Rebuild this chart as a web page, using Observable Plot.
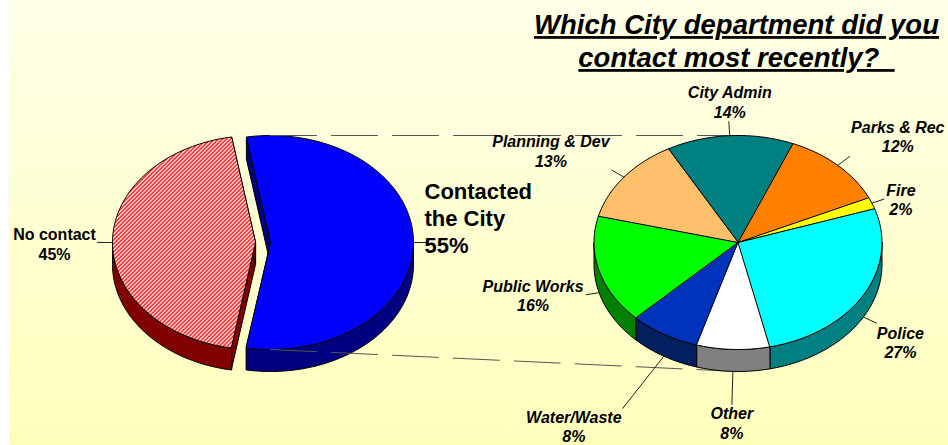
<!DOCTYPE html>
<html>
<head>
<meta charset="utf-8">
<script src="https://cdn.jsdelivr.net/npm/d3@7"></script>
<script src="https://cdn.jsdelivr.net/npm/@observablehq/plot@0.6"></script>
<style>
html,body{margin:0;padding:0;background:#fff}
svg{display:block}
.chart-title text{text-decoration:underline;text-decoration-thickness:3px;text-underline-offset:2px}
</style>
</head>
<body>
<div id="chart"></div>
<script>
// ---- data ----
const titleLines = ["Which City department did you", "contact most recently?\u00a0\u00a0"];

const contactCategories = ["Contacted the City", "No contact"];
const contactValues = [55.4, 44.6];
const contactLabels = ["Contacted\nthe City\n55%", "No contact\n45%"];

const deptCategories = ["City Admin", "Parks & Rec", "Fire", "Police", "Other", "Water/Waste", "Public Works", "Planning & Dev"];
const deptValues = [14.3, 11.9, 1.75, 26.6, 8.2, 7.9, 16.4, 13];
const deptPercents = [14, 12, 2, 27, 8, 8, 16, 13];

// ---- styling ----
const contactTop = ["#0000ff", "url(#hatch)"];
const contactSide = ["#000080", "#800000"];
const deptTop = ["#008080", "#ff8000", "#ffff00", "#00ffff", "#ffffff", "#0033bb", "#00ff00", "#ffbf6b"];
const deptSide = ["#004d4d", "#804000", "#808000", "#008080", "#808080", "#002060", "#008000", "#806030"];

// ---- layout ----
const W = 948, H = 445;
const cy = 242, depth = 22;
const pieRight = {cx: 737.5, rx: 144, ry: 107};
const contactCx = [270, 255];
const contactRx = 143, contactRy = 107;
const rad = Math.PI / 180;
const deptLabelOffset = [[0,-34],[60,-29],[29,-4],[37,25],[-1,51],[-90,70],[-66,2.5],[-73,-26.5]];
const deptLeader = [[-1,-14],[12,-9],[12,-4],[13,6],[-1,33],[-41,52],[-13,2],[-12,-7]];

const pt = (cx, cyy, rx, ry, a) => ({x: cx + rx * Math.sin(a), y: cyy - ry * Math.cos(a)});
const arc = (cx, cyy, rx, ry, a0, a1) => {
  const n = Math.max(2, Math.ceil(Math.abs(a1 - a0) / (1.5 * rad)));
  return d3.range(n + 1).map(i => pt(cx, cyy, rx, ry, a0 + (a1 - a0) * i / n));
};

// the two cut faces of an exploded slice
function wallFaces(cx, rx, ry, s, fill) {
  const apex = {x: cx, y: cy}, apexD = {x: cx, y: cy + depth};
  return [s.startAngle, s.endAngle].map(a => ({
    points: [apex, pt(cx, cy, rx, ry, a), pt(cx, cy + depth, rx, ry, a), apexD], fill
  }));
}
// the visible front part of a slice's rim
function rimFaces(cx, rx, ry, s, fill) {
  const faces = [];
  for (const k of [-2, 0, 2]) {
    const a0 = Math.max(s.startAngle, 90 * rad + k * Math.PI);
    const a1 = Math.min(s.endAngle, 270 * rad + k * Math.PI);
    if (a1 > a0) faces.push({
      points: [...arc(cx, cy, rx, ry, a0, a1), ...arc(cx, cy + depth, rx, ry, a1, a0)],
      fill
    });
  }
  return faces;
}
const topFace = (cx, rx, ry, s, fill) => ({
  points: [{x: cx, y: cy}, ...arc(cx, cy, rx, ry, s.startAngle, s.endAngle)], fill
});

const contactPie = d3.pie().sort(null).startAngle(-9.7 * rad).endAngle(350.3 * rad)(contactValues);
const deptPie = d3.pie().sort(null).startAngle(-29 * rad).endAngle(331 * rad)(deptValues);

const rim = (cx, rx, ry, s) => {
  const m = (s.startAngle + s.endAngle) / 2;
  return pt(cx, Math.cos(m) < -0.05 ? cy + depth : cy, rx, ry, m);
};
const faceMark = f => Plot.line(f.points, {x: "x", y: "y", fill: f.fill, stroke: "#000", strokeWidth: 1, curve: "linear-closed"});

const leftFaces = [
  ...contactPie.flatMap((s, i) => wallFaces(contactCx[i], contactRx, contactRy, s, contactSide[i])),
  ...contactPie.flatMap((s, i) => rimFaces(contactCx[i], contactRx, contactRy, s, contactSide[i])),
  ...contactPie.map((s, i) => topFace(contactCx[i], contactRx, contactRy, s, contactTop[i]))
];
const rightFaces = [
  ...deptPie.flatMap((s, i) => rimFaces(pieRight.cx, pieRight.rx, pieRight.ry, s, deptSide[i])),
  ...deptPie.map((s, i) => topFace(pieRight.cx, pieRight.rx, pieRight.ry, s, deptTop[i]))
];

const connectors = [
  [{x: contactCx[0], y: cy - contactRy}, {x: pieRight.cx, y: cy - pieRight.ry}],
  [{x: contactCx[0], y: cy + contactRy}, {x: pieRight.cx, y: cy + pieRight.ry + depth}]
];

const deptRows = deptPie.map((s, i) => {
  const r = rim(pieRight.cx, pieRight.rx, pieRight.ry, s);
  return {
    r,
    end: {x: r.x + deptLeader[i][0], y: r.y + deptLeader[i][1]},
    x: r.x + deptLabelOffset[i][0],
    y: r.y + deptLabelOffset[i][1],
    label: `${deptCategories[i]}\n${deptPercents[i]}%`
  };
});
const contactRims = contactPie.map((s, i) => rim(contactCx[i], contactRx, contactRy, s));
const contactLeaders = [
  [contactRims[0], {x: contactRims[0].x + 15, y: contactRims[0].y}],
  [contactRims[1], {x: contactRims[1].x - 15, y: contactRims[1].y}]
];

const font = "'Liberation Sans', Arial, sans-serif";
const plot = Plot.plot({
  width: W, height: H,
  margin: 0,
  style: {background: "linear-gradient(#ffffe8,#ffffbc) 9px 0 / 939px 100% no-repeat", fontFamily: font},
  x: {domain: [0, W], range: [0, W], axis: null},
  y: {domain: [0, H], range: [0, H], axis: null},
  marks: [
    ...leftFaces.map(faceMark),
    ...connectors.map(c => Plot.line(c, {x: "x", y: "y", stroke: "#555", strokeWidth: 1, strokeDasharray: "46,15"})),
    ...rightFaces.map(faceMark),
    ...deptRows.map(d => Plot.line([d.r, d.end], {x: "x", y: "y", stroke: "#222", strokeWidth: 1})),
    ...contactLeaders.map(c => Plot.line(c, {x: "x", y: "y", stroke: "#222", strokeWidth: 1})),
    Plot.text(deptRows, {x: "x", y: "y", text: "label", fontSize: 16, fontWeight: "bold", fontStyle: "italic", fill: "#000", lineHeight: 1.23}),
    Plot.text([contactLabels[1]], {x: contactRims[1].x - 58, y: contactRims[1].y + 1, text: d => d, fontSize: 16, fontWeight: "bold", fill: "#000", lineHeight: 1.23}),
    Plot.text([contactLabels[0]], {x: contactRims[0].x + 11, y: contactRims[0].y - 25, text: d => d, textAnchor: "start", fontSize: 22, fontWeight: "bold", fill: "#000", lineHeight: 1.23}),
    Plot.text([titleLines.join("\n")], {x: 736, y: 39.5, text: d => d, className: "chart-title", fontSize: 27.5, fontWeight: "bold", fontStyle: "italic", fill: "#000", lineHeight: 1.2})
  ]
});

// the 4x4 pixel hatch used by the "No contact" slice
const defs = d3.select(plot).insert("defs", ":first-child");
const pattern = defs.append("pattern").attr("id", "hatch").attr("patternUnits", "userSpaceOnUse")
  .attr("width", 4).attr("height", 4);
pattern.append("rect").attr("width", 4).attr("height", 4).attr("fill", "#fff");
pattern.append("path").attr("d", "M0 0h1v1h-1zM3 0h1v1h-1zM2 1h2v1h-2zM1 2h2v1h-2zM0 3h2v1h-2z")
  .attr("fill", "#ff0000").attr("shape-rendering", "crispEdges");
document.getElementById("chart").append(plot);
</script>
</body>
</html>
